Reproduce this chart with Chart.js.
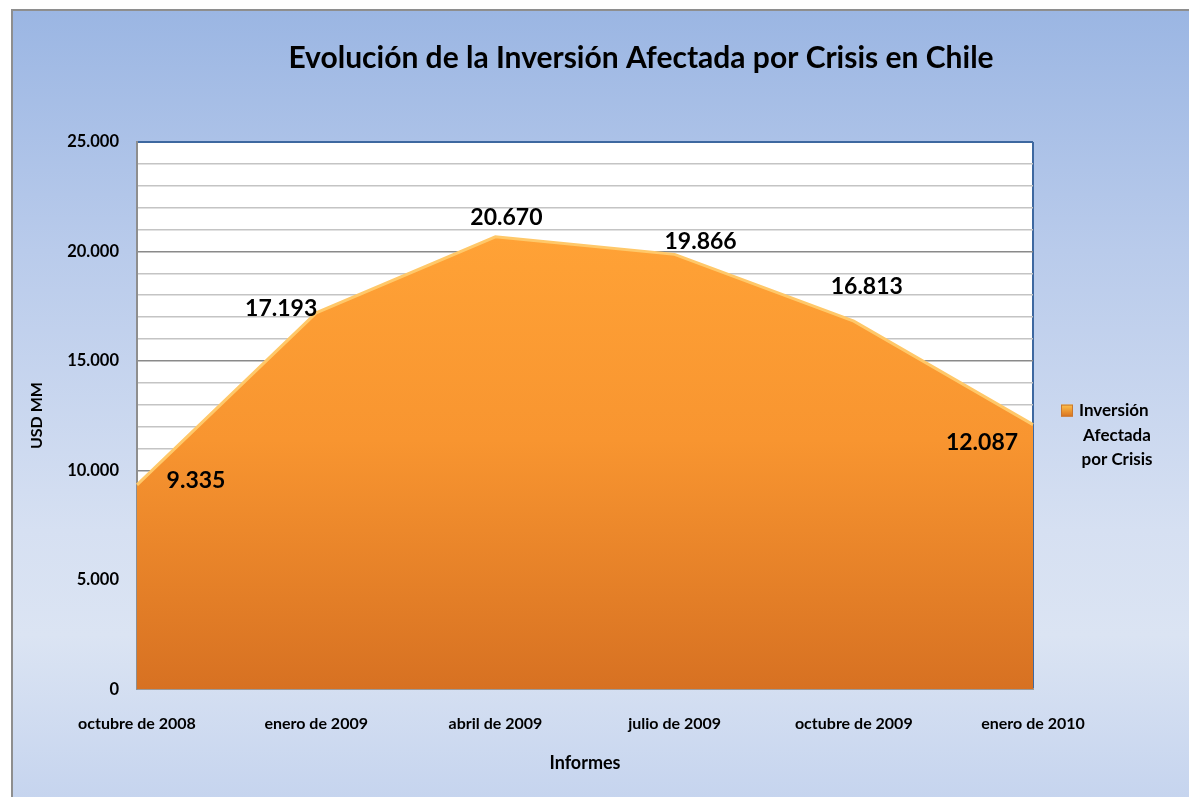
<!DOCTYPE html>
<html>
<head>
<meta charset="utf-8">
<script src="https://cdn.jsdelivr.net/npm/chart.js@4.4.1/dist/chart.umd.min.js"></script>
<style>
  html, body { margin: 0; padding: 0; background: #ffffff; }
  body { width: 1189px; height: 797px; position: relative; overflow: hidden; }
  #frame {
    position: absolute; left: 11px; top: 9px; width: 1190px; height: 800px;
    border-left: 2px solid #8e8e8e; border-top: 2px solid #8e8e8e;
    background: linear-gradient(to bottom, #9bb6e3 0%, #b9cbeb 30%, #d6e0f2 65%, #dbe4f3 78%, #c4d3ee 100%);
  }
  #wrap { position: absolute; left: 0; top: 0; width: 1189px; height: 797px; }
</style>
</head>
<body>
<div id="frame"></div>
<div id="wrap"><canvas id="chart" width="1189" height="797"></canvas></div>
<script>
// Datos del gráfico
const informes = ['octubre de 2008', 'enero de 2009', 'abril de 2009', 'julio de 2009', 'octubre de 2009', 'enero de 2010'];
const inversion = [9335, 17193, 20670, 19866, 16813, 12087];
const serieNombre = ['Inversión', 'Afectada', 'por Crisis'];
const tituloGrafico = 'Evolución de la Inversión Afectada por Crisis en Chile';

// desplazamiento de cada etiqueta respecto a su punto (como en la hoja original)
const labelOffsets = [[59, -4], [-35, -4], [11, -19], [26, -13], [13, -35], [-51, 18]];

const FONT = 'Lato, "Open Sans", sans-serif';

function fmt(v) {
    return v.toString().replace(/\B(?=(\d{3})+(?!\d))/g, '.');
}

// fondo blanco del área de trazado + título centrado en la ventana
const plotBackground = {
    id: 'plotBackground',
    beforeDraw(chart) {
        const { ctx, chartArea: a } = chart;
        ctx.save();
        ctx.fillStyle = '#ffffff';
        ctx.fillRect(a.left, a.top, a.right - a.left, a.bottom - a.top);
        ctx.font = 'bold 30px ' + FONT;
        ctx.fillStyle = '#000000';
        ctx.textAlign = 'center';
        ctx.textBaseline = 'middle';
        ctx.fillText(tituloGrafico, 641, 58);
        ctx.restore();
    }
};

// etiquetas de datos
const dataLabels = {
    id: 'dataLabels',
    afterDatasetsDraw(chart) {
        const { ctx } = chart;
        const meta = chart.getDatasetMeta(0);
        ctx.save();
        ctx.font = 'bold 23px ' + FONT;
        ctx.fillStyle = '#000000';
        ctx.textAlign = 'center';
        ctx.textBaseline = 'middle';
        meta.data.forEach((pt, i) => {
            const off = labelOffsets[i];
            ctx.fillText(fmt(inversion[i]), pt.x + off[0], pt.y + off[1]);
        });
        ctx.restore();
    }
};

// leyenda a la derecha, en varias líneas
const sideLegend = {
    id: 'sideLegend',
    afterDraw(chart) {
        const { ctx, chartArea: a } = chart;
        const x = a.right + 28;
        const y = (a.top + a.bottom) / 2 - 5;
        ctx.save();
        const g = ctx.createLinearGradient(0, y - 6, 0, y + 6);
        g.addColorStop(0, '#ffc24a');
        g.addColorStop(1, '#d9711f');
        ctx.fillStyle = g;
        ctx.fillRect(x, y - 6, 12, 12);
        ctx.strokeStyle = '#c9772e';
        ctx.lineWidth = 1;
        ctx.strokeRect(x + 0.5, y - 5.5, 11, 11);
        ctx.font = 'bold 17px ' + FONT;
        ctx.fillStyle = '#000000';
        ctx.textBaseline = 'middle';
        ctx.textAlign = 'left';
        ctx.fillText(serieNombre[0], x + 18, y);
        ctx.textAlign = 'center';
        ctx.fillText(serieNombre[1], x + 56, y + 25);
        ctx.fillText(serieNombre[2], x + 56, y + 49);
        ctx.restore();
    }
};

new Chart(document.getElementById('chart'), {
    type: 'line',
    data: {
        labels: informes,
        datasets: [{
            label: serieNombre.join(' '),
            data: inversion,
            fill: 'origin',
            tension: 0,
            pointRadius: 0,
            borderWidth: 3,
            borderColor: '#ffc869',
            backgroundColor: (context) => {
                const chart = context.chart;
                const a = chart.chartArea;
                if (!a) return '#f7922f';
                const top = chart.scales.y.getPixelForValue(Math.max(...inversion));
                const g = chart.ctx.createLinearGradient(0, top, 0, a.bottom);
                g.addColorStop(0, '#ffa236');
                g.addColorStop(0.45, '#f89530');
                g.addColorStop(1, '#d77122');
                return g;
            }
        }]
    },
    options: {
        responsive: false,
        animation: false,
        devicePixelRatio: 1,
        layout: { padding: { left: 22, right: 156, top: 142, bottom: 23 } },
        plugins: {
            legend: { display: false },
            tooltip: { enabled: false },
            title: { display: false }
        },
        scales: {
            x: {
                offset: false,
                grid: {
                    display: true,
                    drawTicks: false,
                    color: (c) => c.index === informes.length - 1 ? '#3e68a0' : 'rgba(0,0,0,0)',
                    lineWidth: 2
                },
                border: { display: true, color: '#9a9a9a', width: 2 },
                ticks: {
                    color: '#000000',
                    font: { family: FONT, size: 16, weight: 'bold' },
                    padding: 25,
                    maxRotation: 0
                },
                title: {
                    display: true,
                    text: 'Informes',
                    color: '#000000',
                    font: { family: FONT, size: 18, weight: 'bold' },
                    padding: { top: -6, bottom: 0 }
                }
            },
            y: {
                min: 0,
                max: 25000,
                afterFit(scale) { scale.width = 137 - 22; },
                grid: {
                    drawTicks: false,
                    color: (c) => {
                        const v = c.tick.value;
                        if (v === 25000) return '#3e68a0';
                        return v % 5000 === 0 ? '#8a8a8a' : '#c4c4c4';
                    },
                    lineWidth: (c) => c.tick.value === 25000 ? 2 : 1.5
                },
                border: { display: true, color: '#8e8e8e', width: 2 },
                ticks: {
                    stepSize: 1000,
                    autoSkip: false,
                    color: '#000000',
                    padding: 18,
                    font: { family: FONT, size: 16.5, weight: 'bold' },
                    callback: (v) => v % 5000 === 0 ? fmt(v) : ''
                },
                title: {
                    display: true,
                    text: 'USD MM',
                    color: '#000000',
                    font: { family: FONT, size: 16, weight: 'bold' },
                    padding: { top: 5, bottom: 0 }
                }
            }
        }
    },
    plugins: [plotBackground, dataLabels, sideLegend]
});
</script>
</body>
</html>
